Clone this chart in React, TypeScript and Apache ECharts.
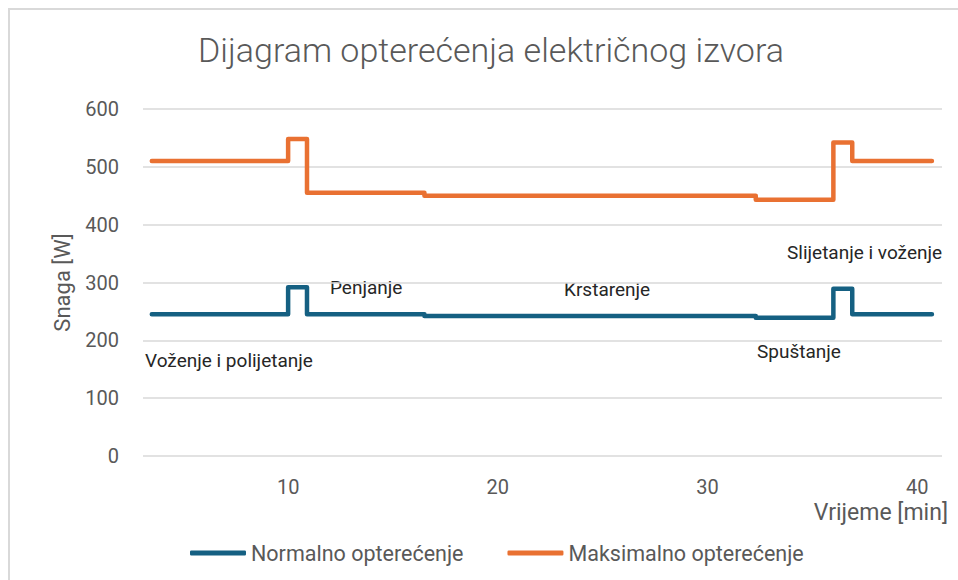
import React, { useEffect, useRef } from "react";
import * as echarts from "echarts";

const TITLE = "Dijagram opterećenja električnog izvora";
const SERIES_NAMES = ["Normalno opterećenje", "Maksimalno opterećenje"];
const TIME_POINTS = [3.5, 10, 10.9, 16.5, 32.3, 36.0, 36.9, 40.7];
const NORMAL_LOAD = [245, 292, 245, 242, 239, 289, 245, 245];
const MAX_LOAD = [510, 548, 455, 450, 443, 542, 510, 510];
const X_TICKS = [10, 20, 30, 40];
const Y_TICKS = [0, 100, 200, 300, 400, 500, 600];
const PHASE_LABELS = [
  "Voženje i polijetanje",
  "Penjanje",
  "Krstarenje",
  "Spuštanje",
  "Slijetanje i voženje",
];

const FONT = "Roboto, 'Noto Sans', sans-serif";

export default function App() {
  const ref = useRef<HTMLDivElement>(null);

  useEffect(() => {
    if (!ref.current) return;
    const chart = echarts.init(ref.current, undefined, { renderer: "svg" });

    const pairs = (vals: number[]) => TIME_POINTS.map((t, i) => [t, vals[i]]);

    // phase label positions (left x, middle y)
    const labelPos = [
      [145, 360],
      [330, 287],
      [564, 289],
      [757, 351],
      [787, 252],
    ];

    chart.setOption({
      animation: false,
      backgroundColor: "#ffffff",
      textStyle: { fontFamily: FONT },
      title: {
        text: TITLE,
        left: 486,
        textAlign: "center",
        top: 28,
        textStyle: {
          fontFamily: FONT,
          fontSize: 34,
          fontWeight: 300,
          color: "#595959",
        },
      },
      legend: {
        left: 185,
        top: 537,
        itemWidth: 56,
        itemHeight: 5,
        itemGap: 44,
        icon: "roundRect",
        textStyle: { fontFamily: FONT, fontSize: 21.5, color: "#595959" },
        data: SERIES_NAMES,
      },
      grid: { left: 143, right: 16, top: 109, bottom: 124 },
      xAxis: {
        type: "value",
        min: 3.08,
        max: 41.18,
        name: "Vrijeme [min]",
        nameLocation: "end",
        nameGap: 6,
        nameTextStyle: {
          fontFamily: FONT,
          fontSize: 23,
          color: "#595959",
          align: "right",
          verticalAlign: "top",
          padding: [45, 0, 0, 0],
        },
        axisLine: { show: false },
        axisTick: { show: false },
        splitLine: { show: false },
        axisLabel: {
          customValues: X_TICKS,
          fontFamily: FONT,
          fontSize: 20,
          color: "#595959",
          margin: 21,
        },
      },
      yAxis: {
        type: "value",
        min: Y_TICKS[0],
        max: Y_TICKS[Y_TICKS.length - 1],
        interval: 100,
        name: "Snaga [W]",
        nameLocation: "middle",
        nameRotate: 90,
        nameGap: 70,
        nameTextStyle: { fontFamily: FONT, fontSize: 22, color: "#595959" },
        axisLine: { show: false },
        axisTick: { show: false },
        axisLabel: {
          fontFamily: FONT,
          fontSize: 20,
          color: "#595959",
          margin: 24,
        },
        splitLine: { lineStyle: { color: "#d9d9d9", width: 1.5 } },
      },
      series: [
        {
          name: SERIES_NAMES[0],
          type: "line",
          step: "end",
          showSymbol: false,
          color: "#156082",
          lineStyle: { width: 4.5, color: "#156082", cap: "round", join: "round" },
          data: pairs(NORMAL_LOAD),
        },
        {
          name: SERIES_NAMES[1],
          type: "line",
          step: "end",
          showSymbol: false,
          color: "#E97132",
          lineStyle: { width: 4.5, color: "#E97132", cap: "round", join: "round" },
          data: pairs(MAX_LOAD),
        },
      ],
      graphic: [
        {
          type: "rect",
          shape: { x: 9, y: 9, width: 980, height: 600 },
          style: { fill: "none", stroke: "#d9d9d9", lineWidth: 2 },
          silent: true,
          z: -1,
        },
        ...PHASE_LABELS.map((txt, i) => ({
          type: "text",
          x: labelPos[i][0],
          y: labelPos[i][1],
          style: {
            text: txt,
            font: `19px ${FONT}`,
            fill: "#262626",
            textAlign: "left",
            textVerticalAlign: "middle",
          },
        })),
      ],
    });

    return () => chart.dispose();
  }, []);

  return (
    <div
      ref={ref}
      style={{ position: "fixed", left: 0, top: 0, width: 958, height: 580 }}
    />
  );
}
